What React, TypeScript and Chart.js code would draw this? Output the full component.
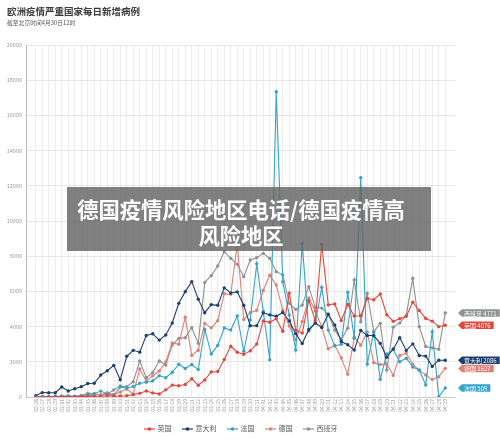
import { useEffect, useRef } from 'react';
import { Chart, registerables } from 'chart.js';

Chart.register(...registerables);

const dates = [
  '02/26', '02/27', '02/28', '02/29',
  '03/01', '03/02', '03/03', '03/04', '03/05', '03/06', '03/07', '03/08', '03/09', '03/10',
  '03/11', '03/12', '03/13', '03/14', '03/15', '03/16', '03/17', '03/18', '03/19', '03/20',
  '03/21', '03/22', '03/23', '03/24', '03/25', '03/26', '03/27', '03/28', '03/29', '03/30', '03/31',
  '04/01', '04/02', '04/03', '04/04', '04/05', '04/06', '04/07', '04/08', '04/09', '04/10',
  '04/11', '04/12', '04/13', '04/14', '04/15', '04/16', '04/17', '04/18', '04/19', '04/20',
  '04/21', '04/22', '04/23', '04/24', '04/25', '04/26', '04/27', '04/28', '04/29',
];

const ukCases = [
  0, 2, 5, 3,
  13, 4, 11, 34, 30, 48, 43, 67, 48, 61, 74, 134, 208, 342, 232, 171, 407, 676, 643, 714, 1035, 665, 967, 1427, 1452, 2129, 2885, 2546, 2433, 2619, 3009,
  4324, 4244, 4450, 3735, 5903, 3802, 3634, 5491, 4344, 8681, 5233, 5288, 4342, 5252, 4603, 4617, 5599, 5525, 5850, 4676, 4301, 4451, 4583, 5386, 4913, 4463, 4309, 3996, 4076,
];

const italyCases = [
  78, 250, 238, 240,
  566, 342, 466, 587, 769, 778, 1247, 1492, 1797, 977, 2313, 2651, 2547, 3497, 3590, 3233, 3526, 4207, 5322, 5986, 6557, 5560, 4789, 5249, 5210, 6203, 5909, 5974, 5217, 4050, 4053,
  4782, 4668, 4585, 4805, 4316, 3599, 3039, 3836, 4204, 3951, 4694, 4092, 3153, 2972, 2667, 3786, 3493, 3491, 3047, 2256, 2729, 3370, 2646, 3021, 2357, 2324, 1739, 2091, 2086,
];

const franceCases = [
  6, 20, 19, 43,
  30, 61, 21, 73, 138, 190, 336, 177, 83, 575, 497, 595, 785, 838, 924, 1210, 1097, 1404, 1861, 1617, 1847, 1559, 3838, 2446, 2931, 3922, 3809, 4611, 2599, 4376, 7578,
  4861, 2116, 17350, 6553, 4659, 2670, 8731, 3750, 4200, 6231, 3800, 2900, 3000, 5947, 3333, 12462, 1875, 3700, 1004, 2443, 2700, 2000, 2200, 1700, 1534, 682, 3712, 19, 509,
];

const germanyCases = [
  10, 19, 2, 31,
  51, 29, 37, 66, 220, 188, 129, 241, 136, 281, 451, 170, 1597, 910, 1210, 1477, 1985, 3070, 2993, 4528, 2365, 2660, 4183, 3930, 4337, 5871, 5833, 8676, 4400, 4790, 4923,
  6064, 6922, 6365, 4933, 4031, 3251, 4289, 5633, 4885, 3990, 2737, 2946, 2218, 1287, 3394, 2945, 3699, 1945, 1842, 1881, 1226, 2357, 2481, 1870, 1514, 1257, 988, 1154, 1627,
];

const spainCases = [
  9, 2, 17, 13,
  39, 36, 45, 57, 37, 141, 100, 173, 400, 622, 582, 869, 2045, 1100, 1400, 2045, 1818, 2954, 3333, 3371, 3939, 3049, 6515, 6894, 7443, 8258, 7879, 7538, 6837, 7784, 7917,
  8163, 7879, 7121, 6932, 5322, 4981, 5227, 6269, 5094, 5051, 4716, 3807, 3268, 3902, 6648, 4280, 5890, 3712, 4185, 1534, 3968, 4211, 4635, 6740, 3995, 2870, 2793, 2706, 4771,
];

const seriesNames = ['英国', '意大利', '法国', '德国', '西班牙'];
const seriesValues = [ukCases, italyCases, franceCases, germanyCases, spainCases];
const seriesColors = ['#e5463b', '#1d3f6e', '#35a3c9', '#de8074', '#8e9290'];

const titleText = '欧洲疫情严重国家每日新增病例';
const subtitleText = '截至北京时间4月30日12时';
const overlayLine1 = '德国疫情风险地区电话/德国疫情高';
const overlayLine2 = '风险地区';

const yMax = 20000;
const yStep = 2000;

const FONT = '"Noto Sans CJK SC", "Noto Sans", sans-serif';

const headerPlugin = {
  id: 'header',
  afterDraw(chart: any) {
    const ctx = chart.ctx;
    ctx.save();
    ctx.textBaseline = 'middle';
    ctx.textAlign = 'left';
    ctx.fillStyle = '#3a3a3a';
    ctx.font = 'bold 9.5px ' + FONT;
    ctx.fillText(titleText, 7, 11);
    ctx.fillStyle = '#555555';
    ctx.font = '5.8px ' + FONT;
    ctx.fillText(subtitleText, 7, 23);
    ctx.restore();
  },
};

const endTagPlugin = {
  id: 'endTags',
  afterDatasetsDraw(chart: any) {
    const ctx = chart.ctx;
    const area = chart.chartArea;
    const yScale = chart.scales.y;
    const items = chart.data.datasets.map((ds: any, i: number) => {
      const last = ds.data[ds.data.length - 1];
      return {
        y: yScale.getPixelForValue(last.y),
        text: seriesNames[i] + ' ' + last.y,
        color: seriesColors[i],
      };
    });
    items.sort((a: any, b: any) => a.y - b.y);
    for (let k = 1; k < items.length; k++) {
      if (items[k].y - items[k - 1].y < 8.2) items[k].y = items[k - 1].y + 8.2;
    }
    ctx.save();
    ctx.font = '6px ' + FONT;
    ctx.textBaseline = 'middle';
    for (const it of items) {
      const x0 = area.right + 3;
      const w = ctx.measureText(it.text).width + 5;
      const h = 7.4;
      ctx.beginPath();
      ctx.moveTo(x0, it.y);
      ctx.lineTo(x0 + 4, it.y - h / 2);
      ctx.lineTo(x0 + 4 + w, it.y - h / 2);
      ctx.lineTo(x0 + 4 + w, it.y + h / 2);
      ctx.lineTo(x0 + 4, it.y + h / 2);
      ctx.closePath();
      ctx.fillStyle = it.color;
      ctx.fill();
      ctx.fillStyle = '#ffffff';
      ctx.fillText(it.text, x0 + 6, it.y + 0.3);
    }
    ctx.restore();
  },
};

function LegendMarker({ color }: { color: string }) {
  return (
    <svg width="11" height="6" style={{ marginRight: 3, display: 'block' }}>
      <line x1="0" y1="3" x2="11" y2="3" stroke={color} strokeWidth="1.2" />
      <circle cx="5.5" cy="3" r="1.8" fill={color} />
    </svg>
  );
}

export default function App() {
  const canvasRef = useRef<HTMLCanvasElement | null>(null);

  useEffect(() => {
    if (!canvasRef.current) return;
    const datasets = seriesValues.map((vals, i) => ({
      label: seriesNames[i],
      data: vals.map((v, idx) => ({ x: idx, y: v })),
      borderColor: seriesColors[i],
      backgroundColor: seriesColors[i],
      borderWidth: 1.1,
      pointRadius: 1.7,
      pointBorderWidth: 0,
      pointBackgroundColor: seriesColors[i],
      tension: 0,
    }));
    const chart = new Chart(canvasRef.current, {
      type: 'line',
      data: { datasets },
      plugins: [endTagPlugin, headerPlugin],
      options: {
        animation: false,
        responsive: false,
        maintainAspectRatio: false,
        devicePixelRatio: 1,
        layout: { padding: { top: 45, left: 0, right: 45, bottom: 16 } },
        plugins: {
          legend: { display: false },
          tooltip: { enabled: false },
          title: { display: false },
        },
        scales: {
          x: {
            type: 'linear',
            min: -1.5,
            max: dates.length - 1 + 1.5,
            afterBuildTicks: (axis: any) => {
              axis.ticks = dates.map((_, i) => ({ value: i }));
            },
            afterFit: (axis: any) => {
              axis.height = 26;
            },
            ticks: {
              autoSkip: false,
              maxRotation: 90,
              minRotation: 90,
              padding: 2,
              color: '#9a9a9a',
              font: { size: 5, family: FONT },
              callback: (v: any) => dates[v] ?? '',
            },
            grid: { color: '#eeeeee', lineWidth: 1, drawTicks: false },
            border: { color: '#cccccc' },
          },
          y: {
            min: 0,
            max: yMax,
            afterFit: (axis: any) => {
              axis.width = 26;
            },
            ticks: {
              stepSize: yStep,
              padding: 4,
              color: '#9a9a9a',
              font: { size: 5.5, family: FONT },
              callback: (v: any) => String(v),
            },
            grid: { color: '#e6e6e6', lineWidth: 1, drawTicks: false },
            border: { color: '#bbbbbb' },
          },
        },
      },
    } as any);
    return () => chart.destroy();
  }, []);

  return (
    <div style={{ position: 'absolute', left: 0, top: 0, width: 500, height: 439, background: '#ffffff', fontFamily: FONT, overflow: 'hidden' }}>
      <canvas ref={canvasRef} width={500} height={439} style={{ position: 'absolute', left: 0, top: 0, width: 500, height: 439 }} />
      <div style={{ position: 'absolute', left: 67, top: 187, width: 364, height: 64, background: 'rgba(100,100,100,0.82)' }} />
      <div style={{ position: 'absolute', left: 67, top: 196, width: 348, textAlign: 'center', color: '#ffffff', fontSize: 21.3, fontWeight: 700, lineHeight: '26px', whiteSpace: 'nowrap' }}>
        {overlayLine1}
        <br />
        {overlayLine2}
      </div>
      <div style={{ position: 'absolute', left: 26, top: 424, width: 429, display: 'flex', justifyContent: 'center', alignItems: 'center', gap: 10, fontSize: 7, color: '#555555', lineHeight: '9px' }}>
        {seriesNames.map((n, i) => (
          <div key={n} style={{ display: 'flex', alignItems: 'center' }}>
            <LegendMarker color={seriesColors[i]} />
            <span>{n}</span>
          </div>
        ))}
      </div>
    </div>
  );
}
